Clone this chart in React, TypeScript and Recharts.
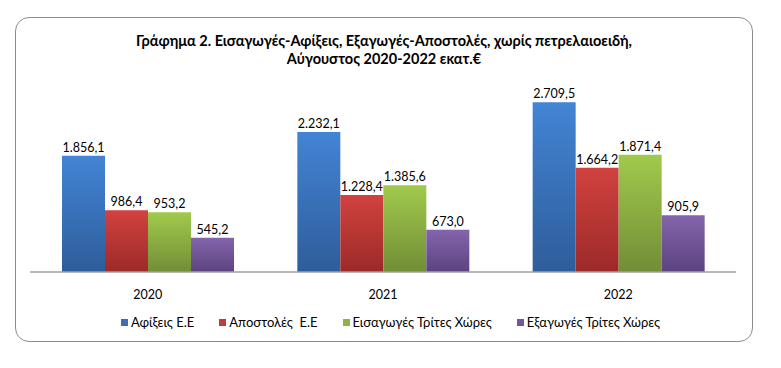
import React from "react"
import { Bar, BarChart, LabelList, Legend, XAxis, YAxis } from "recharts"

const years = ["2020", "2021", "2022"]
const afixeis = [1856.1, 2232.1, 2709.5]
const apostoles = [986.4, 1228.4, 1664.2]
const eisagoges = [953.2, 1385.6, 1871.4]
const exagoges = [545.2, 673.0, 905.9]

const seriesNames = ["Αφίξεις Ε.Ε", "Αποστολές  Ε.Ε", "Εισαγωγές Τρίτες Χώρες", "Εξαγωγές Τρίτες Χώρες"]

const data = years.map((y, i) => ({
    year: y,
    afixeis: afixeis[i],
    apostoles: apostoles[i],
    eisagoges: eisagoges[i],
    exagoges: exagoges[i],
}))

const series = [
    { key: "afixeis", name: seriesNames[0], top: "#4384d4", bottom: "#2e5d9b", swatch: "#3b6fb6" },
    { key: "apostoles", name: seriesNames[1], top: "#d1423f", bottom: "#9c2a28", swatch: "#be3c39" },
    { key: "eisagoges", name: seriesNames[2], top: "#a1ca4c", bottom: "#728d37", swatch: "#8db442" },
    { key: "exagoges", name: seriesNames[3], top: "#8464ac", bottom: "#5c4380", swatch: "#7257a0" },
]

const FONT = "Lato, 'Open Sans', sans-serif"

// greek number format: 1.856,1
const fmt = (v: any) => {
    const [int, dec] = Number(v).toFixed(1).split(".")
    return int.replace(/\B(?=(\d{3})+(?!\d))/g, ".") + "," + dec
}

function LegendContent() {
    return (
        <div style={{ display: "flex", justifyContent: "center", gap: 25, fontFamily: FONT, fontSize: 13, color: "#000" }}>
            {series.map(s => (
                <div key={s.key} style={{ display: "flex", alignItems: "center", whiteSpace: "pre" }}>
                    <span style={{ width: 7, height: 7, background: s.swatch, marginRight: 3, display: "inline-block" }} />
                    {s.name}
                </div>
            ))}
        </div>
    )
}

export default function App() {
    return (
        <div style={{ position: "absolute", left: 0, top: 0, width: 781, height: 368, background: "#fff" }}>
            <div style={{
                position: "absolute", left: 15, top: 17, width: 736, height: 323,
                border: "1px solid #8c8c8c", borderRadius: 14,
            }} />
            <div style={{
                position: "absolute", left: 0, top: 32, width: 768, textAlign: "center",
                fontFamily: FONT, fontWeight: "bold", fontSize: 14.5, lineHeight: "18px", color: "#000",
            }}>
                Γράφημα 2. Εισαγωγές-Αφίξεις, Εξαγωγές-Αποστολές, χωρίς πετρελαιοειδή,<br />
                Αύγουστος 2020-2022 εκατ.€
            </div>
            <div style={{ position: "absolute", left: 0, top: 0 }}>
                <BarChart width={781} height={368} data={data} barGap={0} barSize={43}
                    margin={{ top: 84, right: 45, left: 30, bottom: 66 }}>
                    <defs>
                        {series.map(s => (
                            <linearGradient key={s.key} id={"g-" + s.key} x1="0" y1="0" x2="0" y2="1">
                                <stop offset="0%" stopColor={s.top} />
                                <stop offset="100%" stopColor={s.bottom} />
                            </linearGradient>
                        ))}
                    </defs>
                    <XAxis dataKey="year" axisLine={{ stroke: "#a0a0a0", strokeWidth: 1.5 }} tickLine={false}
                        tickSize={0} tickMargin={18} height={30}
                        tick={{ fill: "#000", fontSize: 12.5, fontFamily: FONT }} />
                    <YAxis hide domain={[0, 3000]} />
                    {series.map(s => (
                        <Bar key={s.key} dataKey={s.key} name={s.name} fill={`url(#g-${s.key})`}
                            isAnimationActive={false}>
                            <LabelList dataKey={s.key} position="top" offset={4} formatter={fmt}
                                style={{ fill: "#000", fontSize: 12.5, fontFamily: FONT }} />
                        </Bar>
                    ))}
                    <Legend verticalAlign="middle" align="center" content={<LegendContent />}
                        wrapperStyle={{ top: 314, left: 0, width: 781 }} />
                </BarChart>
            </div>
        </div>
    )
}
